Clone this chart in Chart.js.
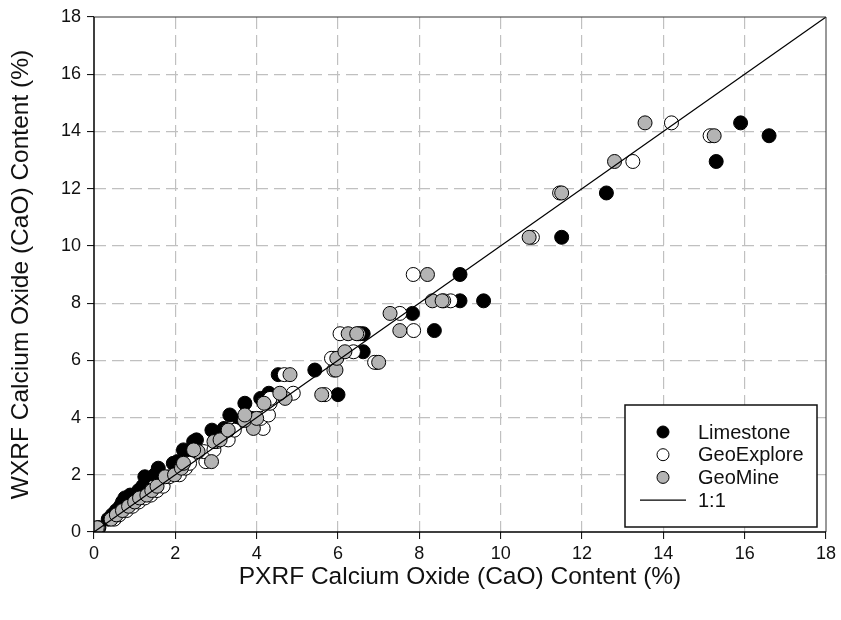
<!DOCTYPE html>
<html>
<head>
<meta charset="utf-8">
<title>CaO PXRF vs WXRF</title>
<script src="https://cdn.jsdelivr.net/npm/chart.js@4.4.0/dist/chart.umd.min.js"></script>
<style>
  body { margin: 0; background: #fff; }
  canvas { display: block; }
</style>
</head>
<body>
<canvas id="caoChart" width="841" height="620"></canvas>
<script>
// WXRF reference value for each sample (%)
var wxrf = [
  0.15, 0.45, 0.6, 0.75, 0.9, 1.05, 1.19, 1.29, 1.45, 1.6,
  1.93, 2.0, 2.23, 2.4, 2.46, 2.81, 2.87, 3.16, 3.22, 3.56,
  3.62, 3.9, 3.97, 4.09, 4.5, 4.67, 4.85, 5.5, 4.8, 5.66,
  5.93, 6.07, 6.3, 6.93, 6.93, 7.04, 7.64, 8.08, 8.08, 9.0,
  10.3, 11.85, 12.95, 13.85, 14.3
];

// PXRF readings of the same samples, one list per calibration (%)
var limestone = [
  0.12, 0.35, 0.45, 0.55, 0.65, 0.7, 0.76, 0.89, 1.1, 1.2,
  1.25, 1.5, 1.58, 1.95, 2.05, 2.25, 2.2, 2.45, 2.52, 2.9,
  3.2, 3.59, 3.88, 3.34, 3.71, 4.1, 4.3, 4.53, 6.0, 5.43,
  6.95, 5.9, 6.62, 6.62, 6.55, 8.37, 7.83, 9.0, 9.58, 9.0,
  11.5, 12.6, 15.3, 16.6, 15.9
];
var geoExplore = [
  0.1, 0.5, 0.62, 0.8, 0.95, 1.1, 1.25, 1.4, 1.55, 1.7,
  1.85, 2.1, 2.25, 2.35, 2.75, 2.7, 2.95, 3.02, 3.3, 3.45,
  4.16, 3.8, 4.1, 4.29, 4.33, 4.33, 4.9, 4.68, 5.68, 5.9,
  6.9, 5.84, 6.38, 6.05, 6.5, 7.86, 7.52, 8.77, 8.6, 7.85,
  10.78, 11.45, 13.25, 15.15, 14.2
];
var geoMine = [
  0.08, 0.42, 0.55, 0.7, 0.85, 1.0, 1.12, 1.3, 1.42, 1.55,
  1.75, 1.98, 2.15, 2.2, 2.89, 2.56, 2.45, 2.95, 3.1, 3.3,
  3.92, 3.7, 4.0, 3.71, 4.18, 4.7, 4.57, 4.82, 5.6, 5.95,
  7.0, 5.97, 6.17, 6.25, 6.46, 7.52, 7.28, 8.32, 8.56, 8.2,
  10.7, 11.5, 12.8, 15.25, 13.55
];

// 1:1 reference line end points
var oneToOne = [0, 18];

var axisTicks = [0, 2, 4, 6, 8, 10, 12, 14, 16, 18];

function toPoints(xs) {
  return xs.map(function(x, i) { return { x: x, y: wxrf[i] }; });
}

var fontFamily = "'Liberation Sans', Arial, sans-serif";

// Plot frame drawn on top of everything in the chart area
var framePlugin = {
  id: "frame",
  afterDatasetsDraw: function(chart) {
    var a = chart.chartArea, ctx = chart.ctx;
    ctx.save();
    ctx.strokeStyle = "#333";
    ctx.lineWidth = 1;
    ctx.beginPath();
    ctx.moveTo(a.left, a.top);
    ctx.lineTo(a.right, a.top);
    ctx.lineTo(a.right, a.bottom);
    ctx.stroke();
    ctx.strokeStyle = "#000";
    ctx.lineWidth = 1.5;
    ctx.beginPath();
    ctx.moveTo(a.left, a.top);
    ctx.lineTo(a.left, a.bottom);
    ctx.lineTo(a.right, a.bottom);
    ctx.stroke();
    ctx.restore();
  }
};

// Boxed legend in the lower right corner of the plot
var boxLegendPlugin = {
  id: "boxLegend",
  afterDraw: function(chart) {
    var a = chart.chartArea, ctx = chart.ctx;
    var w = 192, h = 122;
    var bx = a.right - 9 - w, by = a.bottom - 5 - h;
    ctx.save();
    ctx.fillStyle = "#fff";
    ctx.fillRect(bx, by, w, h);
    ctx.strokeStyle = "#111";
    ctx.lineWidth = 1.5;
    ctx.strokeRect(bx, by, w, h);
    ctx.font = "20px " + fontFamily;
    ctx.textBaseline = "middle";
    chart.data.datasets.forEach(function(ds, i) {
      var y = by + 27 + i * 22.7;
      var mx = bx + 38;
      if (ds.type === "line") {
        ctx.strokeStyle = ds.borderColor;
        ctx.lineWidth = 1.2;
        ctx.beginPath();
        ctx.moveTo(bx + 15, y);
        ctx.lineTo(bx + 61, y);
        ctx.stroke();
      } else {
        ctx.beginPath();
        ctx.arc(mx, y, 6, 0, Math.PI * 2);
        ctx.fillStyle = ds.backgroundColor;
        ctx.fill();
        ctx.strokeStyle = ds.borderColor;
        ctx.lineWidth = 1;
        ctx.stroke();
      }
      ctx.fillStyle = "#111";
      ctx.fillText(ds.label, bx + 73, y + 1);
    });
    ctx.restore();
  }
};

function gridColor(c) {
  var v = c.tick && c.tick.value;
  return (v === 0 || v === 18) ? "rgba(0,0,0,0)" : "#c0c0c0";
}

var ctx = document.getElementById("caoChart").getContext("2d");
var caoChart = new Chart(ctx, {
  type: "scatter",
  data: {
    datasets: [
      {
        label: "Limestone",
        data: toPoints(limestone),
        backgroundColor: "#000000",
        borderColor: "#000000",
        borderWidth: 1,
        pointRadius: 7,
        order: 3
      },
      {
        label: "GeoExplore",
        data: toPoints(geoExplore),
        backgroundColor: "#ffffff",
        borderColor: "#000000",
        borderWidth: 1,
        pointRadius: 7,
        order: 2
      },
      {
        label: "GeoMine",
        data: toPoints(geoMine),
        backgroundColor: "#b4b4b4",
        borderColor: "#000000",
        borderWidth: 1,
        pointRadius: 7,
        order: 1
      },
      {
        type: "line",
        label: "1:1",
        data: oneToOne.map(function(v) { return { x: v, y: v }; }),
        borderColor: "#000000",
        borderWidth: 1.2,
        pointRadius: 0,
        fill: false,
        order: 0
      }
    ]
  },
  options: {
    responsive: false,
    animation: false,
    devicePixelRatio: 1,
    layout: { padding: { top: 17, right: 15, left: 0, bottom: 0 } },
    plugins: {
      legend: { display: false },
      tooltip: { enabled: false }
    },
    scales: {
      x: {
        type: "linear",
        min: 0,
        max: 18,
        afterFit: function(s) { s.height = 88; },
        afterBuildTicks: function(s) { s.ticks = axisTicks.map(function(v) { return { value: v }; }); },
        border: { display: false, dash: [12, 6] },
        grid: {
          color: gridColor,
          lineWidth: 1.2,
          tickLength: 7,
          tickColor: "#000",
          tickWidth: 1,
          tickBorderDash: []
        },
        ticks: {
          padding: 4,
          color: "#111",
          font: { family: fontFamily, size: 18 },
          maxRotation: 0
        },
        title: {
          display: true,
          text: "PXRF Calcium Oxide (CaO) Content (%)",
          color: "#111",
          font: { family: fontFamily, size: 24.5 },
          padding: { top: 0, bottom: 28 }
        }
      },
      y: {
        type: "linear",
        min: 0,
        max: 18,
        afterFit: function(s) { s.width = 94; },
        afterBuildTicks: function(s) { s.ticks = axisTicks.map(function(v) { return { value: v }; }); },
        border: { display: false, dash: [12, 6] },
        grid: {
          color: gridColor,
          lineWidth: 1.2,
          tickLength: 7,
          tickColor: "#000",
          tickWidth: 1,
          tickBorderDash: []
        },
        ticks: {
          padding: 6,
          color: "#111",
          font: { family: fontFamily, size: 18 }
        },
        title: {
          display: true,
          text: "WXRF Calcium Oxide (CaO) Content (%)",
          color: "#111",
          font: { family: fontFamily, size: 24.5 },
          padding: { top: 7, bottom: 0 }
        }
      }
    }
  },
  plugins: [framePlugin, boxLegendPlugin]
});
</script>
</body>
</html>
